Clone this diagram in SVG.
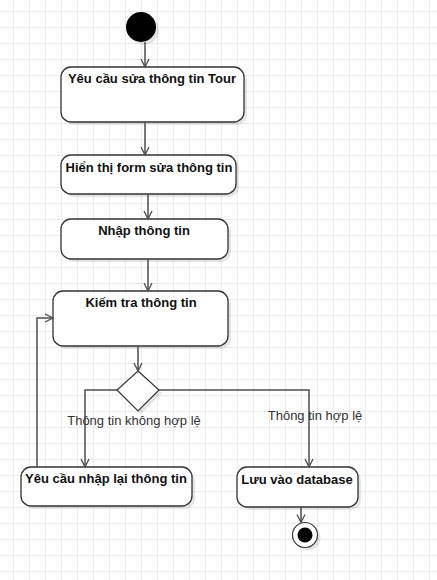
<svg xmlns="http://www.w3.org/2000/svg" width="437" height="580" viewBox="0 0 437 580">
<defs>
<pattern id="grid" x="13" y="11" width="16" height="16" patternUnits="userSpaceOnUse">
<path d="M0 0.5H16M0.5 0V16" fill="none" stroke="#ebebeb" stroke-width="1"/>
</pattern>
<marker id="arr" markerWidth="12" markerHeight="12" refX="9" refY="5" orient="auto" markerUnits="userSpaceOnUse">
<path d="M1 1L9 5L1 9" fill="none" stroke="#4d4d4d" stroke-width="1.3"/>
</marker>
<style>
.box{fill:#fff;stroke:#333;stroke-width:1.3}
.sh{fill:#000;fill-opacity:0.1;stroke:none}
.t{font-family:"Liberation Sans",Arial,sans-serif;font-size:13px;font-weight:bold;fill:#111;text-anchor:middle}
.lbl{font-family:"Liberation Sans",Arial,sans-serif;font-size:13px;fill:#333;text-anchor:middle}
.ln{fill:none;stroke:#4d4d4d;stroke-width:1.5}
</style>
</defs>
<rect width="437" height="580" fill="#fff"/>
<rect width="437" height="580" fill="url(#grid)"/>

<g id="start">
<circle cx="144" cy="30" r="15" class="sh"/>
<circle cx="141" cy="27" r="15" fill="#000"/>
</g>

<g id="n1">
<rect x="64" y="70" width="183" height="55" rx="10" class="sh"/>
<rect x="61" y="67" width="183" height="55" rx="10" class="box"/>
<text x="152" y="83" class="t">Yêu cầu sửa thông tin Tour</text>
</g>

<g id="n2">
<rect x="64" y="158" width="175" height="39" rx="10" class="sh"/>
<rect x="61" y="155" width="175" height="39" rx="10" class="box"/>
<text x="149" y="172" class="t">Hiển thị form sửa thông tin</text>
</g>

<g id="n3">
<rect x="64" y="222" width="167" height="40" rx="10" class="sh"/>
<rect x="61" y="219" width="167" height="40" rx="10" class="box"/>
<text x="144" y="235" class="t">Nhập thông tin</text>
</g>

<g id="n4">
<rect x="56" y="294" width="175" height="55" rx="10" class="sh"/>
<rect x="53" y="291" width="175" height="55" rx="10" class="box"/>
<text x="141" y="307" class="t">Kiếm tra thông tin</text>
</g>

<g id="decision">
<path d="M141 374L162 393L141 414L120 393Z" class="sh"/>
<path d="M138 371L159 390L138 411L117 390Z" fill="#fff" stroke="#333" stroke-width="1.2"/>
</g>

<g id="n5">
<rect x="24" y="470" width="171" height="39" rx="10" class="sh"/>
<rect x="21" y="467" width="171" height="39" rx="10" class="box"/>
<text x="106" y="483" class="t">Yêu cầu nhập lại thông tin</text>
</g>

<g id="n6">
<rect x="240" y="470" width="121" height="40" rx="10" class="sh"/>
<rect x="237" y="467" width="121" height="40" rx="10" class="box"/>
<text x="297" y="484" class="t">Lưu vào database</text>
</g>

<g id="end">
<circle cx="308" cy="538" r="12.5" class="sh"/>
<circle cx="305" cy="535" r="12.5" fill="#fff" stroke="#333" stroke-width="1.2"/>
<circle cx="305" cy="535" r="7.5" fill="#000"/>
</g>

<g id="connectors">
<path d="M145 42V67" class="ln" marker-end="url(#arr)"/>
<path d="M145 122V155" class="ln" marker-end="url(#arr)"/>
<path d="M148 194V219" class="ln" marker-end="url(#arr)"/>
<path d="M148 259V291" class="ln" marker-end="url(#arr)"/>
<path d="M138 346V371" class="ln" marker-end="url(#arr)"/>
<path d="M117 390H85V467" class="ln" marker-end="url(#arr)"/>
<path d="M159 390H309V467" class="ln" marker-end="url(#arr)"/>
<path d="M37 467V318H53" class="ln" marker-end="url(#arr)"/>
<path d="M301 507V522.5" class="ln" marker-end="url(#arr)"/>
<text x="134" y="425" class="lbl">Thông tin không hợp lệ</text>
<text x="315" y="420" class="lbl">Thông tin hợp lệ</text>
</g>
</svg>
